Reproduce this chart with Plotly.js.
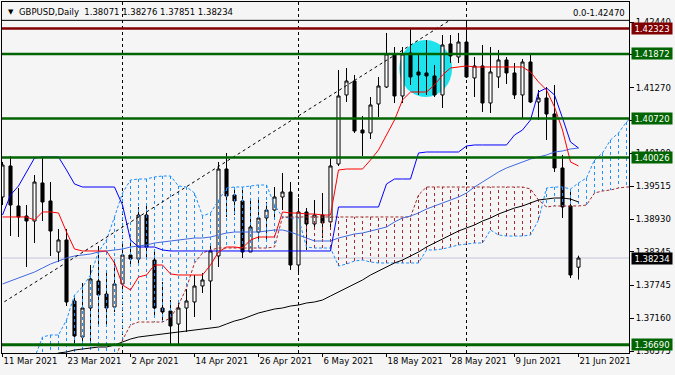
<!DOCTYPE html>
<html>
<head>
<meta charset="utf-8">
<script src="https://cdn.plot.ly/plotly-3.0.1.min.js"></script>
<style>html,body{margin:0;padding:0;background:#F5F5F5;}#chart{width:675px;height:375px;}</style>
</head>
<body>
<div id="chart"></div>
<script>
// ---- Daily GBPUSD candles (bar index 0 = 11 Mar 2021 ... 72 = 21 Jun 2021) ----
const open  = [1.39322,1.39875,1.39162,1.38983,1.38894,1.39572,1.39251,1.38342,1.38556,1.37469,1.36827,1.37344,1.37825,1.37593,1.37362,1.37772,1.38288,1.38217,1.39001,1.38199,1.37344,1.37290,1.37059,1.37344,1.37451,1.37736,1.37825,1.38271,1.39821,1.39358,1.39251,1.38342,1.38698,1.38948,1.39090,1.39322,1.39411,1.38110,1.39055,1.38841,1.39001,1.38877,1.39910,1.41140,1.41389,1.40516,1.40463,1.40980,1.41282,1.41871,1.41122,1.41888,1.41550,1.41532,1.41479,1.41140,1.42049,1.41817,1.42084,1.41443,1.41657,1.40997,1.41461,1.41764,1.41532,1.41140,1.41728,1.41015,1.41086,1.40801,1.39839,1.39162,1.38071];
const high  = [1.39946,1.40053,1.39482,1.39179,1.39714,1.40017,1.39589,1.38752,1.38752,1.37540,1.37789,1.38110,1.38449,1.37968,1.38164,1.38467,1.38520,1.39144,1.39179,1.38360,1.37807,1.37486,1.37486,1.37682,1.37932,1.37968,1.38467,1.39946,1.40106,1.39482,1.39482,1.39251,1.39304,1.39233,1.39500,1.39750,1.39589,1.39304,1.39126,1.39269,1.39393,1.40035,1.41585,1.41621,1.41496,1.40766,1.41104,1.41461,1.42245,1.41995,1.41995,1.42334,1.41888,1.42120,1.41675,1.42209,1.42209,1.42245,1.42477,1.41817,1.42031,1.41995,1.41942,1.41817,1.41710,1.41782,1.41871,1.41229,1.41282,1.41318,1.40071,1.39411,1.38276];
const low   = [1.39179,1.38627,1.38609,1.38075,1.38502,1.38894,1.38271,1.38164,1.37379,1.36720,1.36667,1.36667,1.37041,1.37023,1.37273,1.37665,1.38110,1.38110,1.38199,1.37201,1.37094,1.36684,1.36684,1.36916,1.37183,1.37611,1.37130,1.38075,1.38966,1.39001,1.38235,1.38342,1.38556,1.38556,1.38948,1.39090,1.38021,1.37968,1.38378,1.38770,1.38591,1.38770,1.39875,1.41015,1.40463,1.40053,1.40356,1.40748,1.41265,1.40997,1.40997,1.41318,1.41140,1.41140,1.41104,1.40908,1.41710,1.41710,1.41443,1.41104,1.40837,1.40819,1.41265,1.41336,1.41069,1.40730,1.40997,1.40694,1.40338,1.39768,1.38948,1.37878,1.37851];
const close = [1.39892,1.39179,1.38966,1.38894,1.39589,1.39233,1.38716,1.38556,1.37451,1.36845,1.37344,1.37861,1.37576,1.37344,1.37772,1.38288,1.38217,1.39001,1.38431,1.37344,1.37273,1.37023,1.37344,1.37469,1.37736,1.37843,1.38360,1.39821,1.39340,1.39251,1.38342,1.38787,1.38948,1.39090,1.39322,1.39411,1.38110,1.39055,1.38841,1.39001,1.38859,1.39875,1.41122,1.41389,1.40498,1.40463,1.40962,1.41300,1.41871,1.41122,1.41871,1.41461,1.41496,1.41479,1.41140,1.42031,1.41835,1.42084,1.41461,1.41657,1.40997,1.41550,1.41764,1.41532,1.41140,1.41728,1.41015,1.41086,1.40801,1.39839,1.39144,1.37932,1.38234];

// ---- Ichimoku lines (red Tenkan, blue Kijun) ----
const tenkan = [1.38966,1.38966,1.38966,1.38966,1.38912,1.39055,1.39055,1.39037,1.38698,1.38395,1.38360,1.38360,1.38360,1.38360,1.38146,1.37754,1.37665,1.37896,1.37932,1.38110,1.38110,1.37950,1.37932,1.37932,1.37932,1.37932,1.38110,1.38342,1.38431,1.38431,1.38413,1.38556,1.38609,1.38609,1.38609,1.39055,1.39037,1.39037,1.39019,1.39019,1.39001,1.39001,1.39803,1.39821,1.39821,1.39821,1.39981,1.40160,1.40427,1.40694,1.41051,1.41193,1.41193,1.41193,1.41318,1.41496,1.41621,1.41639,1.41657,1.41639,1.41639,1.41639,1.41639,1.41639,1.41639,1.41639,1.41550,1.41372,1.41229,1.40926,1.40516,1.39946,1.39875];
const kijun  = [1.39001,1.39358,1.39518,1.39768,1.40017,1.40035,1.40035,1.40035,1.39803,1.39554,1.39500,1.39500,1.39500,1.39500,1.39500,1.39179,1.38556,1.38431,1.38431,1.38431,1.38378,1.38360,1.38360,1.38360,1.38360,1.38360,1.38360,1.38360,1.38360,1.38360,1.38360,1.38360,1.38360,1.38360,1.38360,1.38360,1.38360,1.38360,1.38360,1.38360,1.38360,1.38360,1.39144,1.39144,1.39144,1.39144,1.39144,1.39144,1.39554,1.39643,1.39643,1.39643,1.40106,1.40124,1.40124,1.40124,1.40124,1.40124,1.40231,1.40249,1.40249,1.40249,1.40249,1.40249,1.40427,1.40516,1.40694,1.41193,1.41265,1.41140,1.40730,1.40302,1.40195];
// ---- Ichimoku cloud spans (shifted forward, bar index 0..79) ----
const spanA = [null,null,null,null,1.36453,1.36827,1.36863,1.36863,1.37130,1.37576,1.37718,1.37932,1.38342,1.38556,1.38966,1.39393,1.39625,1.39643,1.39643,1.39679,1.39696,1.39696,1.39518,1.39500,1.39393,1.38983,1.39037,1.39269,1.39482,1.39500,1.39500,1.39518,1.39536,1.39536,1.39179,1.38966,1.38948,1.38948,1.38431,1.38413,1.38413,1.38413,1.38092,1.38128,1.38181,1.38199,1.38164,1.38146,1.38146,1.38146,1.38146,1.38146,1.38146,1.38378,1.38378,1.38395,1.38431,1.38467,1.38484,1.38502,1.38502,1.38734,1.38645,1.38627,1.38627,1.38627,1.38645,1.38912,1.39482,1.39500,1.39500,1.39465,1.39572,1.39661,1.39981,1.40106,1.40338,1.40463,1.40659,1.40784];
const spanB = [null,null,null,null,null,null,null,null,null,null,null,null,null,null,1.36417,1.36774,1.37041,1.37094,1.37094,1.37094,1.37094,1.37166,1.37397,1.37700,1.38146,1.38324,1.38378,1.38413,1.38413,1.38413,1.38413,1.38413,1.38413,1.38413,1.38431,1.38966,1.38966,1.38966,1.38966,1.38966,1.38966,1.38966,1.38966,1.38966,1.38966,1.38966,1.38966,1.38966,1.38966,1.38966,1.38966,1.38966,1.39358,1.39500,1.39500,1.39500,1.39500,1.39500,1.39500,1.39500,1.39500,1.39500,1.39500,1.39500,1.39500,1.39500,1.39465,1.39269,1.39144,1.39162,1.39162,1.39162,1.39162,1.39179,1.39393,1.39429,1.39447,1.39482,1.39500,1.39500];
// ---- Moving averages ----
const maBlue  = [1.37772,1.37825,1.37878,1.37932,1.37985,1.38057,1.38128,1.38181,1.38235,1.38271,1.38288,1.38306,1.38342,1.38360,1.38378,1.38395,1.38431,1.38449,1.38467,1.38502,1.38520,1.38538,1.38556,1.38574,1.38591,1.38591,1.38609,1.38645,1.38680,1.38698,1.38698,1.38698,1.38698,1.38716,1.38734,1.38734,1.38698,1.38645,1.38591,1.38538,1.38538,1.38538,1.38591,1.38627,1.38663,1.38680,1.38716,1.38752,1.38787,1.38877,1.38948,1.38983,1.39037,1.39108,1.39162,1.39215,1.39269,1.39322,1.39393,1.39500,1.39589,1.39679,1.39768,1.39839,1.39892,1.39946,1.39999,1.40035,1.40071,1.40124,1.40142,1.40178,1.40195];
const maBlack = [null,null,null,null,null,null,1.36488,1.36542,1.36560,1.36595,1.36613,1.36631,1.36649,1.36649,1.36684,1.36738,1.36791,1.36827,1.36845,1.36863,1.36880,1.36898,1.36916,1.36934,1.36952,1.36970,1.36987,1.37005,1.37059,1.37112,1.37148,1.37201,1.37255,1.37290,1.37326,1.37344,1.37379,1.37397,1.37433,1.37451,1.37486,1.37558,1.37629,1.37700,1.37772,1.37843,1.37932,1.38003,1.38075,1.38146,1.38199,1.38271,1.38342,1.38431,1.38502,1.38574,1.38645,1.38716,1.38770,1.38823,1.38894,1.38948,1.39019,1.39073,1.39126,1.39162,1.39215,1.39269,1.39286,1.39304,1.39304,1.39286,1.39233];

// ---- Horizontal levels, separators, fibo ----
const levels      = [1.42323, 1.41872, 1.40720, 1.40026, 1.36690];
const levelColors = ['#800000', '#006400', '#006400', '#006400', '#006400'];
const lastPrice   = 1.38234;
const fiboHigh    = 1.42470;
const fiboStart   = [-0.4, 1.37398];
const fiboEnd     = [55.9, 1.42470];
const separators  = [15, 37, 58];
const highlight   = [49.6, 56.2, 1.41104, 1.42120]; // x0,x1,y0,y1

// ---- Axis ticks ----
const xTickIdx    = [0, 8, 16, 24, 32, 40, 48, 56, 64, 72];
const xTickLabels = ['11 Mar 2021','23 Mar 2021','2 Apr 2021','14 Apr 2021','26 Apr 2021','6 May 2021','18 May 2021','28 May 2021','9 Jun 2021','21 Jun 2021'];
const yTickVals   = [1.42440, 1.41855, 1.41270, 1.40685, 1.40100, 1.39515, 1.38930, 1.38345, 1.37745, 1.37160, 1.36575];
const yTickLabels = ['1.42440','1.41855','1.41270','1.40685','1.40100','1.39515','1.38930','1.38345','1.37745','1.37160','1.36575'];
const headerText  = 'GBPUSD,Daily  1.38071 1.38276 1.37851 1.38234';

const yMin = 1.36542, yMax = 1.42797;
const FONT = 'DejaVu Sans';

const idx = open.map((_, i) => i);
const idxSpan = spanA.map((_, i) => i);

// cloud hatching
const hb = {x: [], y: []}, hr = {x: [], y: []};
for (let i = 0; i < spanA.length; i++) {
  const a = spanA[i];
  if (a == null) continue;
  const b = spanB[i] == null ? yMin - 0.001 : spanB[i];
  const t = a >= b ? hb : hr;
  t.x.push(i, i, null); t.y.push(a, b, null);
}

const traces = [
  {type: 'scatter', mode: 'lines', x: hb.x, y: hb.y, line: {color: '#1E90FF', width: 1, dash: '3px,3px'}, hoverinfo: 'skip', connectgaps: false},
  {type: 'scatter', mode: 'lines', x: hr.x, y: hr.y, line: {color: '#A52A2A', width: 1, dash: '3px,3px'}, hoverinfo: 'skip', connectgaps: false},
  {type: 'scatter', mode: 'lines', x: idxSpan, y: spanA, line: {color: '#1E90FF', width: 1, dash: '3px,2px'}, hoverinfo: 'skip'},
  {type: 'scatter', mode: 'lines', x: idxSpan, y: spanB, line: {color: '#A52A2A', width: 1, dash: '3px,2px'}, hoverinfo: 'skip'},
  {type: 'scatter', mode: 'lines', x: idx, y: maBlack, line: {color: '#000000', width: 1}, hoverinfo: 'skip'},
  {type: 'scatter', mode: 'lines', x: idx, y: maBlue, line: {color: '#4169E1', width: 1}, hoverinfo: 'skip'},
  {type: 'scatter', mode: 'lines', x: idx, y: kijun, line: {color: '#0000FF', width: 1}, hoverinfo: 'skip'},
  {type: 'scatter', mode: 'lines', x: idx, y: tenkan, line: {color: '#FF0000', width: 1}, hoverinfo: 'skip'},
  {type: 'candlestick', x: idx, open: open, high: high, low: low, close: close,
   increasing: {line: {color: '#000000', width: 1}, fillcolor: '#FFFFFF'},
   decreasing: {line: {color: '#000000', width: 1}, fillcolor: '#000000'},
   whiskerwidth: 0, hoverinfo: 'skip'}
];

const shapes = [];
shapes.push({type: 'circle', xref: 'x', yref: 'y', x0: highlight[0], x1: highlight[1], y0: highlight[2], y1: highlight[3],
  fillcolor: '#1FE3EC', line: {width: 0}, layer: 'below'});
separators.forEach(s => shapes.push({type: 'line', xref: 'x', yref: 'paper', x0: s, x1: s, y0: 0, y1: 1,
  line: {color: '#000000', width: 1, dash: '3px,3px'}, layer: 'below'}));
shapes.push({type: 'line', xref: 'paper', yref: 'y', x0: 0, x1: 1, y0: lastPrice, y1: lastPrice,
  line: {color: '#C6C6DE', width: 1}, layer: 'below'});
shapes.push({type: 'line', xref: 'paper', yref: 'y', x0: 0, x1: 1, y0: fiboHigh, y1: fiboHigh,
  line: {color: '#000000', width: 1}, layer: 'above'});
shapes.push({type: 'line', xref: 'x', yref: 'y', x0: fiboStart[0], y0: fiboStart[1], x1: fiboEnd[0], y1: fiboEnd[1],
  line: {color: '#000000', width: 1, dash: '3px,3px'}, layer: 'above'});
levels.forEach((l, k) => shapes.push({type: 'line', xref: 'paper', yref: 'y', x0: 0, x1: 1, y0: l, y1: l,
  line: {color: levelColors[k], width: k === levels.length - 1 ? 3 : 2.5}, layer: 'above'}));

const annotations = [];
levels.forEach((l, k) => annotations.push({xref: 'paper', yref: 'y', x: 1, y: l, xanchor: 'left', yanchor: 'middle', xshift: 2,
  text: l.toFixed(5), showarrow: false, bgcolor: levelColors[k], font: {family: FONT, size: 8.5, color: '#FFFFFF'},
  width: 38, height: 9, borderpad: 1, align: 'center'}));
annotations.push({xref: 'paper', yref: 'y', x: 1, y: lastPrice, xanchor: 'left', yanchor: 'middle', xshift: 2,
  text: lastPrice.toFixed(5), showarrow: false, bgcolor: '#000000', font: {family: FONT, size: 8.5, color: '#FFFFFF'},
  width: 38, height: 9, borderpad: 1, align: 'center'});
annotations.push({xref: 'paper', yref: 'y', x: 1, y: fiboHigh, xanchor: 'right', yanchor: 'bottom', xshift: -2, yshift: 0,
  text: '0.0-' + fiboHigh.toFixed(5), showarrow: false, font: {family: FONT, size: 8.5, color: '#000000'}});
annotations.push({xref: 'paper', yref: 'paper', x: 0, y: 1, xanchor: 'left', yanchor: 'top', xshift: 4, yshift: -4,
  text: '▼', showarrow: false, font: {family: FONT, size: 7, color: '#000000'}});
annotations.push({xref: 'paper', yref: 'paper', x: 0, y: 1, xanchor: 'left', yanchor: 'top', xshift: 15, yshift: -3,
  text: headerText, showarrow: false, font: {family: FONT, size: 8.5, color: '#000000'}});

const layout = {
  width: 675, height: 375,
  margin: {l: 2, r: 46, t: 2, b: 22, pad: 0},
  paper_bgcolor: '#F5F5F5', plot_bgcolor: '#F5F5F5',
  showlegend: false, hovermode: false, boxgap: 0.45,
  xaxis: {type: 'linear', range: [-0.0625, 78.3125], tickvals: xTickIdx, ticktext: xTickLabels,
    tickangle: 0, automargin: false,
    ticks: 'outside', ticklen: 3, tickcolor: '#000000', ticklabelposition: 'outside right',
    showgrid: false, zeroline: false, showline: true, linecolor: '#000000', linewidth: 1, mirror: true,
    rangeslider: {visible: false}, fixedrange: true,
    tickfont: {family: FONT, size: 8.5, color: '#000000'}},
  yaxis: {side: 'right', range: [yMin, yMax], tickvals: yTickVals, ticktext: yTickLabels, automargin: false,
    ticks: 'outside', ticklen: 4, tickcolor: '#000000',
    showgrid: false, zeroline: false, showline: true, linecolor: '#000000', linewidth: 1, mirror: true, fixedrange: true,
    tickfont: {family: FONT, size: 8.5, color: '#000000'}},
  shapes: shapes,
  annotations: annotations
};

Plotly.newPlot('chart', traces, layout, {displayModeBar: false, staticPlot: true});
</script>
</body>
</html>
